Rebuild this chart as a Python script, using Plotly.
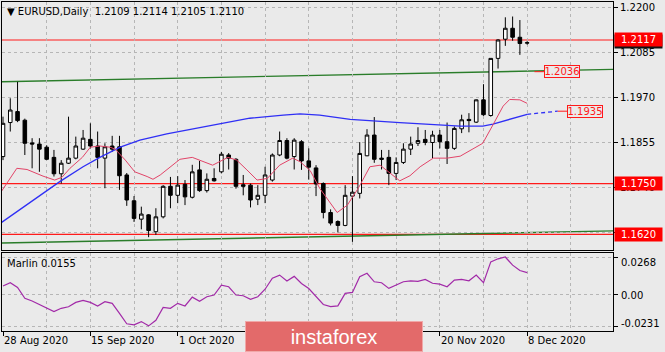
import plotly.graph_objects as go

# ---------------- data ----------------
bar_index = list(range(73))
opens = [1.1819, 1.1906, 1.1934, 1.1912, 1.1854, 1.1851, 1.1843, 1.1817, 1.1775, 1.1802,
         1.1815, 1.1838, 1.1863, 1.1846, 1.1815, 1.1846, 1.1844, 1.1772, 1.1706, 1.1659,
         1.1670, 1.1627, 1.1665, 1.1743, 1.1720, 1.1748, 1.1715, 1.1785, 1.1732, 1.1763,
         1.1780, 1.1823, 1.1812, 1.1747, 1.1746, 1.1710, 1.1720, 1.1759, 1.1823, 1.1860,
         1.1819, 1.1857, 1.1808, 1.1790, 1.1750, 1.1676, 1.1653, 1.1643, 1.1718, 1.1725,
         1.1821, 1.1874, 1.1815, 1.1817, 1.1776, 1.1804, 1.1838, 1.1853, 1.1863, 1.1855,
         1.1874, 1.1857, 1.1840, 1.1890, 1.1914, 1.1907, 1.1964, 1.1924, 1.2070, 1.2119,
         1.2147, 1.2124, 1.2109]
highs = [1.1921, 1.1968, 1.2010, 1.1916, 1.1866, 1.1866, 1.1848, 1.1836, 1.1810, 1.1921,
         1.1870, 1.1887, 1.1904, 1.1883, 1.1853, 1.1872, 1.1872, 1.1777, 1.1718, 1.1691,
         1.1672, 1.1687, 1.1746, 1.1767, 1.1769, 1.1759, 1.1798, 1.1808, 1.1776, 1.1789,
         1.1831, 1.1828, 1.1815, 1.1772, 1.1750, 1.1746, 1.1793, 1.1827, 1.1883, 1.1866,
         1.1866, 1.1861, 1.1840, 1.1797, 1.1753, 1.1684, 1.1656, 1.1746, 1.1769, 1.1856,
         1.1889, 1.1920, 1.1836, 1.1836, 1.1817, 1.1853, 1.1870, 1.1894, 1.1887, 1.1885,
         1.1887, 1.1906, 1.1896, 1.1926, 1.1930, 1.1965, 1.2004, 1.2070, 1.2119, 1.2175,
         1.2177, 1.2168, 1.2114]
lows = [1.1810, 1.1883, 1.1907, 1.1823, 1.1789, 1.1780, 1.1810, 1.1768, 1.1750, 1.1800,
        1.1812, 1.1836, 1.1840, 1.1789, 1.1738, 1.1831, 1.1734, 1.1693, 1.1652, 1.1633,
        1.1613, 1.1619, 1.1661, 1.1687, 1.1700, 1.1695, 1.1712, 1.1729, 1.1727, 1.1755,
        1.1776, 1.1786, 1.1737, 1.1720, 1.1689, 1.1695, 1.1700, 1.1755, 1.1820, 1.1812,
        1.1786, 1.1785, 1.1760, 1.1718, 1.1661, 1.1643, 1.1625, 1.1641, 1.1601, 1.1712,
        1.1820, 1.1803, 1.1786, 1.1746, 1.1759, 1.1800, 1.1823, 1.1846, 1.1848, 1.1815,
        1.1840, 1.1800, 1.1836, 1.1879, 1.1881, 1.1905, 1.1923, 1.1921, 1.2044, 1.2102,
        1.2115, 1.2079, 1.2105]
closes = [1.1904, 1.1938, 1.1911, 1.1853, 1.1851, 1.1838, 1.1812, 1.1775, 1.1802, 1.1815,
          1.1846, 1.1866, 1.1846, 1.1817, 1.1844, 1.1838, 1.1770, 1.1708, 1.1661, 1.1672,
          1.1630, 1.1665, 1.1743, 1.1720, 1.1746, 1.1716, 1.1780, 1.1732, 1.1761, 1.1757,
          1.1825, 1.1815, 1.1743, 1.1743, 1.1708, 1.1720, 1.1772, 1.1823, 1.1860, 1.1815,
          1.1861, 1.1808, 1.1792, 1.1749, 1.1676, 1.1649, 1.1643, 1.1720, 1.1728, 1.1827,
          1.1874, 1.1812, 1.1812, 1.1776, 1.1804, 1.1838, 1.1851, 1.1860, 1.1855, 1.1874,
          1.1857, 1.1840, 1.1891, 1.1913, 1.1911, 1.1964, 1.1926, 1.2070, 1.2117, 1.2147,
          1.2124, 1.2108, 1.2110]

marlin = [0.0058, 0.0082, 0.0048, -0.0031, -0.0050, -0.0075, -0.0105, -0.0127, -0.0103, -0.0092,
          -0.0060, -0.0045, -0.0060, -0.0086, -0.0055, -0.0067, -0.0140, -0.0215, -0.0223, -0.0199,
          -0.0230, -0.0190, -0.0096, -0.0103, -0.0067, -0.0086, -0.0022, -0.0052, -0.0019, -0.0007,
          0.0065, 0.0053, -0.0007, -0.0012, -0.0038, -0.0019, 0.0035, 0.0115, 0.0137, 0.0095,
          0.0128, 0.0077, 0.0040, -0.0015, -0.0075, -0.0091, -0.0085, 0.0005, 0.0012, 0.0125,
          0.0150, 0.0089, 0.0082, 0.0041, 0.0065, 0.0089, 0.0096, 0.0092, 0.0106, 0.0078,
          0.0072, 0.0053, 0.0101, 0.0106, 0.0096, 0.0137, 0.0082, 0.0233, 0.0255, 0.0268,
          0.0209, 0.0170, 0.0155]

fast_ma_idx = [-0.4, 1.9, 3.3, 5.5, 7.1, 8.1, 9.2, 10.9, 12, 13.3, 14.7, 15.4, 16.8, 18.1, 19.8,
               20.6, 21.6, 24.3, 26, 27.5, 28.8, 30.9, 32.1, 33.5, 34.9, 36.3, 38, 39.8, 40.8,
               42.2, 43.5, 45.9, 47.3, 48.8, 50.4, 51.8, 53.2, 54.5, 55.9, 57.3, 59.1, 61, 62.8,
               64.6, 65.9, 67.3, 68.7, 69.6, 71, 72]
fast_ma_val = [1.1725, 1.1789, 1.1786, 1.1769, 1.1759, 1.1766, 1.1789, 1.1817, 1.1843, 1.1846,
               1.1843, 1.1838, 1.1810, 1.1780, 1.1768, 1.1761, 1.1772, 1.1812, 1.1817, 1.1806,
               1.1797, 1.1817, 1.1810, 1.1785, 1.1759, 1.1763, 1.1797, 1.1815, 1.1806, 1.1783,
               1.1738, 1.1676, 1.1695, 1.1738, 1.1793, 1.1797, 1.1776, 1.1757, 1.1770, 1.1793,
               1.1815, 1.1815, 1.1820, 1.1840, 1.1853, 1.1900, 1.1948, 1.1965, 1.1964, 1.1955]

slow_ma_idx = [-0.4, 4.1, 7.8, 11, 13.3, 16.1, 18.8, 22.5, 25.3, 29.8, 33.9, 38.5, 40.8, 43.5,
               47.7, 54.5, 59.1, 62.8, 65.9, 67.3, 72]
slow_ma_val = [1.1648, 1.1708, 1.1755, 1.1793, 1.1817, 1.1843, 1.1861, 1.1877, 1.1887, 1.1904,
               1.1917, 1.1925, 1.1928, 1.1925, 1.1914, 1.1906, 1.1900, 1.1897, 1.1897, 1.1902,
               1.1927]
slow_proj_idx = [72, 76.2]
slow_proj_val = [1.1927, 1.1935]

levels = [1.2117, 1.1750, 1.1620]
level_text = ["1.2117", "1.1750", "1.1620"]
upper_channel_idx = [-0.4, 83.8]
upper_channel_val = [1.2010, 1.2042]
lower_channel_idx = [-0.4, 83.8]
lower_channel_val = [1.1598, 1.1629]

note_levels = [1.2036, 1.1935]
note_text = ["1.2036", "1.1935"]
note_idx = [74.3, 77.5]
note_lead_idx = [73.0, 76.2]

# grid levels of the price scale; the 1.1625 label sits fully under the 1.1620 box
price_ticks = [1.2200, 1.2085, 1.1970, 1.1855, 1.1740, 1.1625]
price_tick_text = ["1.2200", "1.2085", "1.1970", "1.1855", "1.1740", ""]
date_tick_idx = [0, 12, 24, 36, 48, 60, 72]
# the 19 Oct and 4 Nov labels are covered by the watermark
date_tick_text = ["28 Aug 2020", "15 Sep 2020", "1 Oct 2020", "",
                  "", "20 Nov 2020", "8 Dec 2020"]
grid_minor_idx = [6, 18, 30, 42, 54, 66, 78]
marlin_ticks = [0.0268, 0.0, -0.0231]
marlin_tick_text = ["0.0268", "0.00", "-0.0231"]
marlin_tick_shift = [-5, -1, 3]

title_text = "▼\u00a0EURUSD,Daily\u00a0\u00a01.2109\u00a01.2114\u00a01.2105\u00a01.2110"
ind_text = "Marlin\u00a00.0155"

# ---------------- style ----------------
FONT = "DejaVu Sans"
BG = "#eaeaea"
GRID = "#b6b6b6"
W, H = 665, 352
XR = [-0.137, 83.79]

fig = go.Figure()

fig.add_trace(go.Candlestick(
    x=bar_index, open=opens, high=highs, low=lows, close=closes,
    xaxis="x", yaxis="y",
    increasing=dict(line=dict(color="#000000", width=1), fillcolor="#ffffff"),
    decreasing=dict(line=dict(color="#000000", width=1), fillcolor="#000000"),
    whiskerwidth=0, hoverinfo="skip", showlegend=False))

fig.add_trace(go.Scatter(x=slow_ma_idx, y=slow_ma_val, mode="lines", xaxis="x", yaxis="y",
                         line=dict(color="#2f2ff5", width=1.3), hoverinfo="skip", showlegend=False))
fig.add_trace(go.Scatter(x=slow_proj_idx, y=slow_proj_val, mode="lines", xaxis="x", yaxis="y",
                         line=dict(color="#2f2ff5", width=1.3, dash="4px,3px"), hoverinfo="skip", showlegend=False))
fig.add_trace(go.Scatter(x=fast_ma_idx, y=fast_ma_val, mode="lines", xaxis="x", yaxis="y",
                         line=dict(color="#e24468", width=1), hoverinfo="skip", showlegend=False))
fig.add_trace(go.Scatter(x=bar_index, y=marlin, mode="lines", xaxis="x2", yaxis="y2",
                         line=dict(color="#a22aa8", width=1.2), hoverinfo="skip", showlegend=False))

shapes = []
shapes.append(dict(type="line", xref="x", yref="y", layer="below",
                   x0=upper_channel_idx[0], x1=upper_channel_idx[1],
                   y0=upper_channel_val[0], y1=upper_channel_val[1],
                   line=dict(color="#2a7d2a", width=1.4)))
shapes.append(dict(type="line", xref="x", yref="y", layer="below",
                   x0=lower_channel_idx[0], x1=lower_channel_idx[1],
                   y0=lower_channel_val[0], y1=lower_channel_val[1],
                   line=dict(color="#2a7d2a", width=1.4)))
for lv in levels:
    shapes.append(dict(type="line", xref="x domain", yref="y", layer="below",
                       x0=0, x1=1, y0=lv, y1=lv, line=dict(color="#ff1a1a", width=1.2)))
for lv, i0, i1 in zip(note_levels, note_lead_idx, note_idx):
    shapes.append(dict(type="line", xref="x", yref="y", layer="above",
                       x0=i0, x1=i1, y0=lv, y1=lv, line=dict(color="#ff1a1a", width=1)))

annotations = []
annotations.append(dict(text=title_text, xref="paper", yref="paper", x=5 / W, y=1 - 12 / H,
                        xanchor="left", yanchor="middle", showarrow=False,
                        font=dict(family=FONT, size=10, color="#000000")))
annotations.append(dict(text=ind_text, xref="paper", yref="paper", x=5 / W, y=1 - 263 / H,
                        xanchor="left", yanchor="middle", showarrow=False,
                        font=dict(family=FONT, size=10, color="#000000")))
for lv, tx, i0 in zip(note_levels, note_text, note_idx):
    annotations.append(dict(text=tx, xref="x", yref="y", x=i0, y=lv, xanchor="left",
                            yanchor="middle", showarrow=False, bgcolor=BG,
                            bordercolor="#ff1a1a", borderwidth=1, borderpad=0,
                            width=34, height=11,
                            font=dict(family=FONT, size=10, color="#ff1a1a")))
for lv, tx in zip(levels, level_text):
    if tx == "1.2117":
        annotations.append(dict(text="", xref="paper", yref="y", x=614 / W, y=lv,
                                xanchor="left", yanchor="middle", showarrow=False, yshift=-2,
                                bgcolor="#111111", borderpad=0, width=47, height=13))
    annotations.append(dict(text=tx, xref="paper", yref="y", x=614 / W, y=lv,
                            xanchor="left", yanchor="middle", showarrow=False,
                            bgcolor="#ff0000", borderpad=0, width=47, height=13,
                            font=dict(family=FONT, size=10, color="#ffffff")))
for v, tx, sh in zip(marlin_ticks, marlin_tick_text, marlin_tick_shift):
    annotations.append(dict(text=tx, xref="paper", yref="y2", x=619 / W, y=v, yshift=sh,
                            xanchor="left", yanchor="middle", showarrow=False,
                            font=dict(family=FONT, size=10, color="#000000")))
for i, tx in zip(date_tick_idx, date_tick_text):
    if not tx:
        continue
    annotations.append(dict(text=tx, xref="x2", yref="paper", x=i, y=1 - 340 / H,
                            xanchor="left", yanchor="middle", showarrow=False, xshift=-1,
                            font=dict(family=FONT, size=10, color="#000000")))
annotations.append(dict(text="instaforex", xref="paper", yref="paper", x=334 / W, y=1 - 336.5 / H,
                        xanchor="center", yanchor="middle", showarrow=False,
                        bgcolor="#e36a6a", bordercolor="#f0a8a8", borderwidth=1, borderpad=0,
                        width=176, height=29,
                        font=dict(family="Liberation Sans", size=20, color="#ffffff")))

xcommon = dict(range=XR, domain=[2 / W, 613 / W], showline=True, mirror=True,
               linecolor="#000000", linewidth=1, zeroline=False, showgrid=True,
               gridcolor=GRID, griddash="3px,3px", gridwidth=1,
               tickmode="array", tickvals=date_tick_idx, showticklabels=False,
               minor=dict(tickvals=grid_minor_idx, showgrid=True, gridcolor=GRID,
                          griddash="3px,3px", gridwidth=1, ticks=""),
               fixedrange=True)

fig.update_layout(
    width=W, height=H, autosize=False,
    margin=dict(l=0, r=0, t=0, b=0, pad=0),
    paper_bgcolor=BG, plot_bgcolor=BG,
    showlegend=False, hovermode=False,
    boxgap=0.3,
    xaxis=dict(**xcommon, anchor="y", ticks="", rangeslider=dict(visible=False)),
    xaxis2=dict(**xcommon, anchor="y2", ticks="outside", ticklen=4, tickcolor="#000000"),
    yaxis=dict(domain=[1 - 250 / H, 1 - 2 / H], range=[1.15802, 1.22141], side="right",
               anchor="x", showline=True, mirror=True, linecolor="#000000", linewidth=1,
               tickmode="array", tickvals=price_ticks, ticktext=price_tick_text,
               ticks="outside", ticklen=4, tickcolor="#000000",
               tickfont=dict(family=FONT, size=10, color="#000000"),
               showgrid=True, gridcolor=GRID, griddash="3px,3px", zeroline=False,
               fixedrange=True),
    yaxis2=dict(domain=[1 - 331 / H, 1 - 253 / H], range=[-0.0267, 0.0297], side="right",
                anchor="x2", showline=True, mirror=True, linecolor="#000000", linewidth=1,
                tickmode="array", tickvals=marlin_ticks, showticklabels=False,
                ticks="outside", ticklen=4, tickcolor="#000000",
                showgrid=True, gridcolor=GRID, griddash="3px,3px", zeroline=False,
                fixedrange=True),
    shapes=shapes,
    annotations=annotations,
)

fig.write_html("out.html")
